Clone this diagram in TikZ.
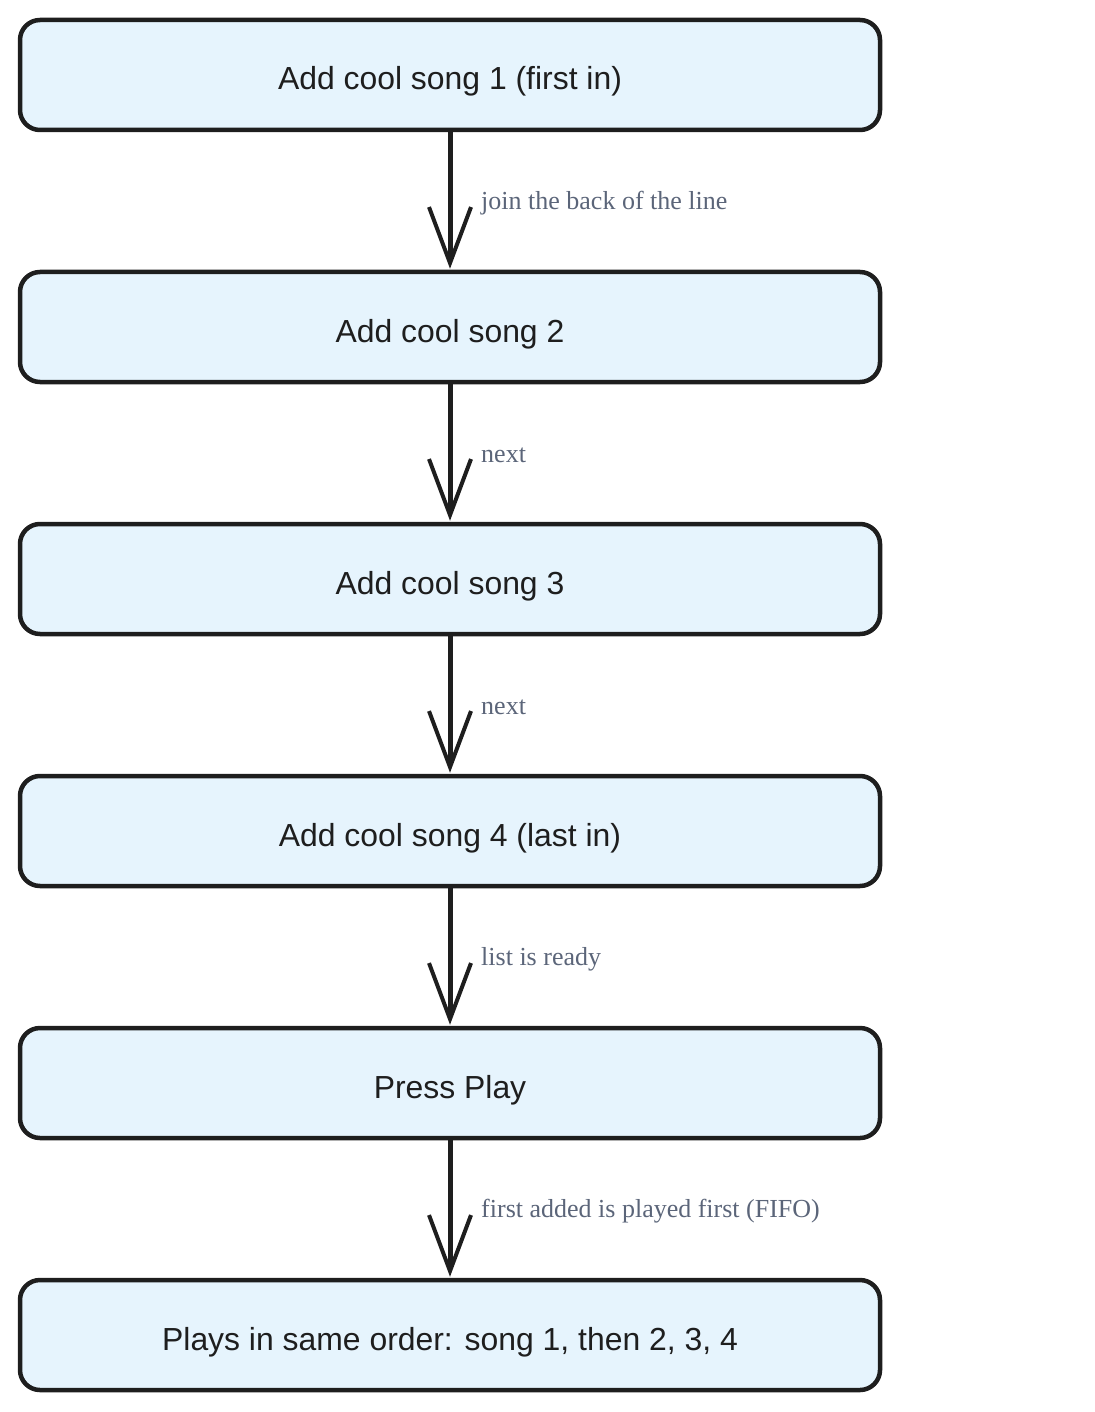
\documentclass[tikz,border=0pt]{standalone}
\usepackage{fontspec}
\setmainfont{Liberation Serif}
\setsansfont{Liberation Sans}
\usetikzlibrary{arrows.meta}
\definecolor{boxfill}{HTML}{E6F4FD}
\definecolor{ink}{HTML}{1E1E1E}
\definecolor{lblcol}{HTML}{5B6579}
\tikzset{
  songbox/.style={draw=ink, fill=boxfill, line width=4.5pt, rounded corners=20pt,
    minimum width=860pt, minimum height=110pt, inner sep=0pt,
    text height=30pt, text depth=0pt,
    font=\sffamily\fontsize{31.9}{38}\selectfont, text=ink},
  flow/.style={draw=ink, line width=5pt,
    -{Straight Barb[length=56pt, width=42pt, line width=4pt]}, shorten >=1pt},
  lbl/.style={anchor=west, font=\rmfamily\fontsize{26}{31}\selectfont, text=lblcol, inner sep=0pt}
}
\begin{document}
\begin{tikzpicture}[x=1pt,y=-1pt]
\useasboundingbox (0,0) rectangle (1094,1412);
\node[songbox] (b1) at (450,75) {Add cool song 1 (first in)};
\node[songbox] (b2) at (450,327) {Add cool song 2};
\node[songbox] (b3) at (450,579) {Add cool song 3};
\node[songbox] (b4) at (450,831) {Add cool song 4 (last in)};
\node[songbox] (b5) at (450,1083) {Press Play};
\node[songbox] (b6) at (450,1335) {Plays in same order: song 1, then 2, 3, 4};
\draw[flow] (b1.south) -- (b2.north);
\draw[flow] (b2.south) -- (b3.north);
\draw[flow] (b3.south) -- (b4.north);
\draw[flow] (b4.south) -- (b5.north);
\draw[flow] (b5.south) -- (b6.north);
\node[lbl] (l1) at (481,203) {join the back of the line};
\node[lbl] (l2) at (481,455) {next};
\node[lbl] (l3) at (481,707) {next};
\node[lbl] (l4) at (481,959) {list is ready};
\node[lbl] (l5) at (481,1211) {first added is played first (FIFO)};
\end{tikzpicture}
\end{document}
